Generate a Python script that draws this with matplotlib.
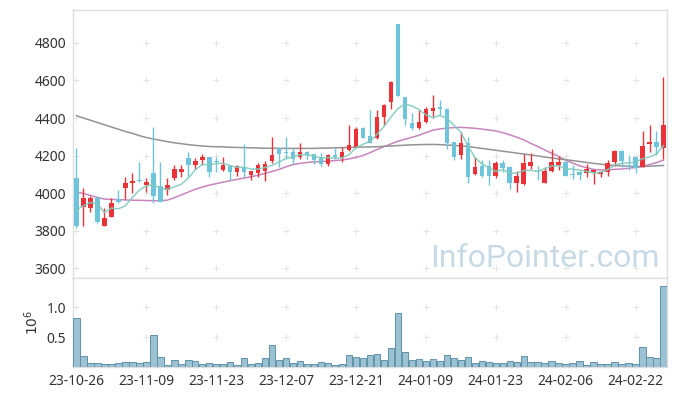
import matplotlib

matplotlib.use("Agg")
import matplotlib.pyplot as plt
import numpy as np

plt.rcParams["font.family"] = ["Noto Sans", "DejaVu Sans"]

# daily OHLC
opens = [4078, 3927, 3918, 3975, 3826, 3874, 3966, 4028, 4052, 4072,
         4043, 4105, 4037, 4016, 4082, 4114, 4185, 4149, 4176, 4190,
         4170, 4123, 4144, 4114, 4140, 4096, 4108, 4119, 4171, 4238,
         4220, 4217, 4194, 4217, 4206, 4194, 4153, 4203, 4185, 4229,
         4247, 4345, 4304, 4292, 4407, 4484, 4901, 4510, 4372, 4348,
         4380, 4439, 4460, 4448, 4270, 4203, 4265, 4101, 4146, 4144,
         4091, 4162, 4140, 4052, 4046, 4146, 4119, 4055, 4117, 4149,
         4164, 4098, 4114, 4108, 4110, 4101, 4114, 4167, 4224, 4142,
         4190, 4140, 4260, 4274, 4240]
highs = [4238, 4025, 3984, 3985, 3918, 3975, 4016, 4084, 4105, 4164,
         4082, 4350, 4164, 4078, 4149, 4149, 4217, 4188, 4206, 4194,
         4190, 4190, 4150, 4150, 4261, 4120, 4158, 4172, 4297, 4245,
         4297, 4238, 4268, 4222, 4210, 4212, 4208, 4238, 4247, 4363,
         4354, 4350, 4443, 4443, 4475, 4597, 4901, 4512, 4425, 4443,
         4460, 4523, 4496, 4452, 4272, 4327, 4297, 4194, 4176, 4176,
         4172, 4176, 4142, 4119, 4206, 4212, 4144, 4140, 4233, 4197,
         4172, 4149, 4120, 4153, 4125, 4118, 4176, 4228, 4228, 4203,
         4192, 4331, 4363, 4331, 4617]
lows = [3815, 3826, 3900, 3838, 3822, 3870, 3948, 3966, 3998, 4060,
        4007, 3945, 3950, 3989, 4069, 4087, 4087, 4126, 4149, 4087,
        4114, 4120, 4069, 4091, 4087, 4069, 4084, 4066, 4158, 4140,
        4180, 4155, 4180, 4180, 4153, 4146, 4146, 4181, 4167, 4225,
        4242, 4292, 4265, 4290, 4363, 4446, 4519, 4363, 4336, 4340,
        4372, 4398, 4416, 4233, 4176, 4180, 4052, 4098, 4085, 4043,
        4078, 4114, 4020, 4007, 4044, 4126, 4069, 4052, 4112, 4123,
        4089, 4073, 4069, 4087, 4046, 4084, 4091, 4144, 4140, 4123,
        4105, 4138, 4220, 4203, 4180]
closes = [3826, 3972, 3972, 3844, 3865, 3945, 3954, 4052, 4064, 4064,
          4057, 3986, 3954, 4041, 4126, 4128, 4149, 4171, 4190, 4114,
          4165, 4149, 4114, 4144, 4114, 4117, 4149, 4155, 4203, 4208,
          4212, 4180, 4217, 4203, 4176, 4153, 4203, 4190, 4217, 4256,
          4341, 4295, 4268, 4404, 4469, 4590, 4519, 4393, 4348, 4377,
          4446, 4452, 4448, 4268, 4194, 4265, 4087, 4140, 4092, 4092,
          4162, 4135, 4052, 4091, 4158, 4167, 4110, 4119, 4167, 4164,
          4091, 4094, 4096, 4128, 4123, 4114, 4158, 4224, 4172, 4138,
          4132, 4251, 4274, 4247, 4363]

# moving average lines as drawn
ma5 = [3910, 3932, 3950, 3942, 3896, 3920, 3916, 3932, 3976, 4016,
       4038, 4045, 4025, 4020, 4033, 4047, 4080, 4123, 4153, 4150,
       4158, 4158, 4146, 4137, 4137, 4128, 4128, 4136, 4148, 4166,
       4185, 4192, 4204, 4204, 4198, 4186, 4190, 4185, 4188, 4204,
       4241, 4260, 4275, 4313, 4355, 4405, 4450, 4475, 4464, 4445,
       4417, 4403, 4414, 4398, 4362, 4325, 4252, 4191, 4156, 4135,
       4115, 4124, 4107, 4106, 4120, 4121, 4116, 4129, 4144, 4145,
       4130, 4127, 4122, 4115, 4106, 4111, 4124, 4149, 4158, 4161,
       4165, 4183, 4193, 4208, 4253]
ma20 = [4007, 3997, 3987, 3976, 3968, 3966, 3965, 3963, 3962, 3961,
        3960, 3959, 3959, 3962, 3975, 3990, 4005, 4020, 4032, 4042,
        4050, 4058, 4066, 4073, 4080, 4087, 4095, 4105, 4115, 4126,
        4140, 4152, 4158, 4163, 4166, 4168, 4170, 4173, 4176, 4182,
        4190, 4200, 4215, 4232, 4247, 4262, 4276, 4287, 4297, 4308,
        4322, 4335, 4342, 4346, 4349, 4350, 4348, 4345, 4341, 4336,
        4331, 4322, 4310, 4298, 4283, 4265, 4248, 4230, 4212, 4195,
        4175, 4160, 4145, 4135, 4126, 4123, 4124, 4126, 4128, 4132,
        4136, 4142, 4152, 4162, 4175]
ma120 = [4412, 4400, 4388, 4376, 4364, 4352, 4340, 4328, 4318, 4306,
         4296, 4288, 4281, 4274, 4268, 4263, 4258, 4254, 4251, 4248,
         4247, 4246, 4244, 4243, 4242, 4241, 4240, 4239, 4239, 4238,
         4238, 4238, 4238, 4238, 4238, 4239, 4240, 4241, 4242, 4243,
         4244, 4245, 4246, 4247, 4249, 4251, 4253, 4255, 4257, 4258,
         4259, 4259, 4258, 4256, 4254, 4251, 4248, 4243, 4238, 4233,
         4228, 4223, 4218, 4213, 4208, 4203, 4198, 4192, 4187, 4182,
         4178, 4173, 4168, 4163, 4158, 4154, 4150, 4147, 4145, 4143,
         4141, 4141, 4143, 4145, 4147]

# volume in millions of shares
volume = [0.82, 0.19, 0.07, 0.07, 0.05, 0.05, 0.07, 0.09, 0.09, 0.07,
          0.09, 0.54, 0.17, 0.03, 0.12, 0.055, 0.12, 0.105, 0.05, 0.07,
          0.05, 0.05, 0.09, 0.03, 0.15, 0.05, 0.07, 0.15, 0.37, 0.12,
          0.15, 0.07, 0.105, 0.05, 0.05, 0.09, 0.07, 0.03, 0.05, 0.20,
          0.17, 0.155, 0.20, 0.215, 0.12, 0.315, 0.90, 0.25, 0.115, 0.13,
          0.10, 0.13, 0.10, 0.20, 0.15, 0.115, 0.165, 0.065, 0.10, 0.083,
          0.065, 0.065, 0.10, 0.083, 0.18, 0.083, 0.083, 0.065, 0.10, 0.065,
          0.05, 0.065, 0.10, 0.033, 0.083, 0.05, 0.05, 0.083, 0.05, 0.065,
          0.05, 0.33, 0.165, 0.15, 1.35]

date_labels = ["23-10-26", "23-11-09", "23-11-23", "23-12-07", "23-12-21",
               "24-01-09", "24-01-23", "24-02-06", "24-02-22"]

UP = "#ea3338"
DOWN = "#6ec4da"
TXT = "#333333"
SPINE = "#dedede"

o = np.array(opens)
c = np.array(closes)
x = np.arange(len(closes))
up = c >= o
colors = np.where(up, UP, DOWN)

fig = plt.figure(figsize=(6.77, 3.96), dpi=100)
ax = fig.add_axes([0.1078, 0.298, 0.8774, 0.6768])
axv = fig.add_axes([0.1078, 0.0732, 0.8774, 0.2247], sharex=ax)

# candles: wick + body
ax.vlines(x, lows, highs, colors=colors, linewidth=1.0, zorder=3)
body_h = np.maximum(np.abs(c - o), 5)
ax.bar(x, body_h, bottom=np.minimum(o, c), width=0.65, color=colors,
       linewidth=0, zorder=4)

ax.plot(x, ma5, color="#80cbbd", linewidth=1.1, alpha=0.9, zorder=5)
ax.plot(x, ma20, color="#c884bd", linewidth=1.1, zorder=2)
ax.plot(x, ma120, color="#939393", linewidth=1.1, zorder=2)

ax.set_xlim(-0.5, len(closes) - 0.5)
ax.set_ylim(3547, 4976)
ax.set_yticks(np.arange(3600, 4801, 200))

axv.bar(x, volume, width=0.92, color="#9bc1d2", edgecolor="#5f93ab",
        linewidth=0.7, zorder=3)
axv.set_ylim(0, 1.49)
axv.set_yticks([0.5, 1.0])
axv.set_yticklabels(["0.5", "1.0"])
axv.set_ylabel("$10^6$", color=TXT, fontsize=10, labelpad=3)

tick_pos = np.arange(0, len(closes), 10)[:len(date_labels)]
axv.set_xticks(tick_pos)
axv.set_xticklabels(date_labels)
plt.setp(ax.get_xticklabels(), visible=False)

# light "+" marks at grid crossings
for a, yt in ((ax, ax.get_yticks()), (axv, [0.5, 1.0])):
    gx, gy = np.meshgrid(tick_pos, yt)
    a.plot(gx.ravel(), gy.ravel(), "+", color="#e3e3e3", markersize=4,
           markeredgewidth=0.7, zorder=0)

for a in (ax, axv):
    a.tick_params(length=0, labelsize=10, labelcolor=TXT, pad=5)
    for s in a.spines.values():
        s.set_color(SPINE)
        s.set_linewidth(1.0)

ax.text(0.988, 0.04, "InfoPointer.com", transform=ax.transAxes,
        ha="right", va="baseline", fontsize=23, family=["Roboto", "DejaVu Sans"],
        color="#c8dae5", zorder=6)

fig.savefig("out.png", dpi=100)
